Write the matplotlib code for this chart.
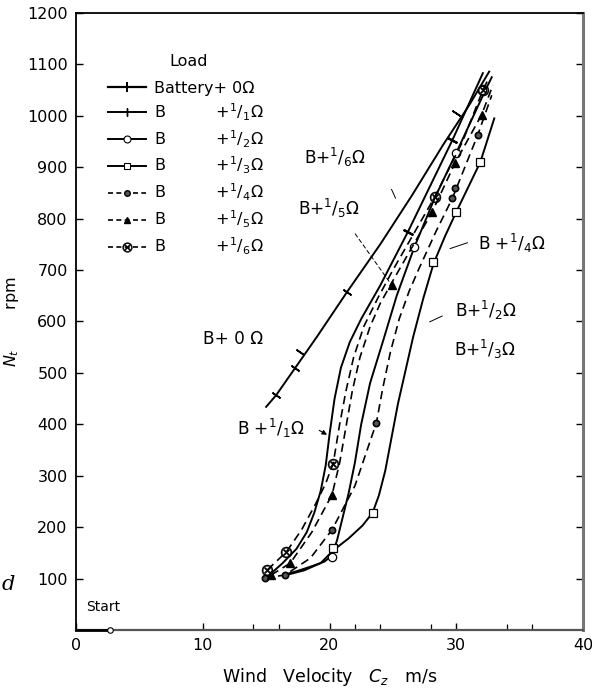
import matplotlib
matplotlib.use("Agg")
import matplotlib.pyplot as plt
from matplotlib.lines import Line2D

plt.rcParams['font.family'] = ['DejaVu Sans']
plt.rcParams['mathtext.fontset'] = 'dejavusans'

# ---------------- data ----------------
# Battery + 0 ohm
b0_x = [15.0, 15.8, 17.3, 19.0, 21.4, 24.0, 26.5, 29.0, 31.0, 32.6]
b0_y = [434, 457, 510, 570, 658, 750, 845, 945, 1020, 1086]
b0_mx = [15.8, 17.3, 17.7, 21.4, 30.0]
b0_my = [457, 510, 540, 658, 1006]

# B + 1/1 ohm
b1_x = [15.3, 16.3, 17.4, 18.2, 18.8, 19.3, 19.7, 20.0, 20.4, 20.9, 21.6, 22.5, 24.0, 26.2, 29.7, 32.1]
b1_y = [108, 130, 158, 190, 228, 270, 320, 380, 450, 510, 560, 605, 670, 775, 953, 1083]
b1_mx = [26.2, 29.7]
b1_my = [775, 953]

# B + 1/2 ohm
b2_x = [16.5, 17.5, 18.6, 19.6, 20.2, 20.6, 21.0, 21.5, 22.0, 22.5, 23.2, 24.2, 25.3, 26.7, 28.3, 30.0, 32.3, 32.8]
b2_y = [108, 115, 124, 133, 145, 175, 215, 265, 325, 400, 480, 560, 650, 745, 840, 928, 1050, 1075]
b2_mx = [20.2, 26.7, 30.0, 32.0]
b2_my = [142, 745, 928, 1050]

# B + 1/3 ohm
b3_x = [16.6, 18.0, 19.3, 20.3, 21.5, 22.6, 23.4, 23.9, 24.4, 24.9, 25.4, 26.0, 26.6, 27.4, 28.2, 29.1, 30.0, 31.9, 33.0]
b3_y = [107, 116, 130, 155, 178, 203, 228, 262, 310, 375, 440, 505, 570, 645, 712, 765, 813, 910, 995]
b3_mx = [20.3, 23.4, 28.2, 30.0, 31.9]
b3_my = [160, 228, 715, 813, 910]

# B + 1/4 ohm
b4_x = [14.9, 16.5, 18.5, 20.2, 22.0, 23.7, 24.2, 24.8, 25.5, 26.3, 27.1, 28.4, 29.7, 31.7, 32.8]
b4_y = [101, 107, 140, 195, 280, 403, 470, 540, 605, 660, 705, 775, 840, 963, 1040]
b4_mx = [14.9, 16.5, 20.2, 23.7, 29.7, 29.9, 31.7]
b4_my = [101, 107, 195, 403, 840, 860, 963]

# B + 1/5 ohm
b5_x = [15.4, 16.9, 18.6, 20.2, 20.8, 21.3, 21.8, 22.4, 23.2, 24.0, 24.9, 28.1, 29.9, 32.0, 32.9]
b5_y = [107, 130, 190, 263, 325, 395, 465, 530, 590, 635, 675, 813, 908, 1002, 1060]
b5_mx = [15.4, 16.9, 20.2, 24.9, 28.1, 29.9, 32.0]
b5_my = [107, 130, 263, 671, 813, 908, 1002]

# B + 1/6 ohm
b6_x = [15.1, 16.6, 17.8, 18.9, 19.7, 20.3, 20.8, 21.3, 21.9, 22.7, 23.8, 25.0, 28.3, 30.5, 32.1, 32.6]
b6_y = [117, 152, 195, 245, 285, 325, 400, 465, 530, 590, 645, 700, 842, 950, 1050, 1075]
b6_mx = [15.1, 16.6, 20.3, 28.3, 32.1]
b6_my = [117, 152, 322, 842, 1050]

start_x = [0.0, 2.7]
start_y = [0, 0]

x_ticks = [0, 10, 20, 30, 40]
x_minor = [14, 16, 22, 24, 28, 34, 36]
y_ticks = [100, 200, 300, 400, 500, 600, 700, 800, 900, 1000, 1100, 1200]

leg_labels = ["Battery+ 0Ω",
              "B          +$^{1}$/$_{1}$Ω",
              "B          +$^{1}$/$_{2}$Ω",
              "B          +$^{1}$/$_{3}$Ω",
              "B          +$^{1}$/$_{4}$Ω",
              "B          +$^{1}$/$_{5}$Ω",
              "B          +$^{1}$/$_{6}$Ω"]

# ---------------- figure ----------------
fig = plt.figure(figsize=(5.92, 6.91), dpi=100)
ax = fig.add_axes([76/592, 61/691, 507/592, 617/691])
ax.set_xlim(0, 40)
ax.set_ylim(0, 1200)

k = 'black'
lw = 1.4
dash = (0, (5, 3))
tick0 = (2, 2, 56)
tick1 = (2, 2, 62)

ax.plot(b0_x, b0_y, color=k, lw=lw)
ax.plot(b0_mx, b0_my, ls='none', marker=tick0, ms=7, mec=k, mew=1.2)

ax.plot(b1_x, b1_y, color=k, lw=lw)
ax.plot(b1_mx, b1_my, ls='none', marker=tick1, ms=8, mec=k, mew=1.6)

ax.plot(b2_x, b2_y, color=k, lw=lw)
ax.plot(b2_mx, b2_my, ls='none', marker='o', ms=6, mfc='white', mec=k, mew=0.9)

ax.plot(b3_x, b3_y, color=k, lw=lw)
ax.plot(b3_mx, b3_my, ls='none', marker='s', ms=5.5, mfc='white', mec=k, mew=0.9)

ax.plot(b4_x, b4_y, color=k, lw=1.2, ls=dash)
ax.plot(b4_mx, b4_my, ls='none', marker='o', ms=4.5, mfc='#555555', mec=k, mew=1.2)

ax.plot(b5_x, b5_y, color=k, lw=1.2, ls=dash)
ax.plot(b5_mx, b5_my, ls='none', marker='^', ms=5.5, mfc=k, mec=k)

ax.plot(b6_x, b6_y, color=k, lw=1.2, ls=dash)
ax.plot(b6_mx, b6_my, ls='none', marker=r'$\otimes$', ms=8, mfc=k, mec=k, mew=0.3)

ax.plot(start_x, start_y, color=k, lw=2.0, clip_on=False, zorder=5)
ax.plot(start_x[-1:], start_y[-1:], ls='none', marker='o', ms=4, mfc='white',
        mec=k, mew=0.8, clip_on=False, zorder=6)

# ---------------- axes styling ----------------
for s in ['left', 'top']:
    ax.spines[s].set_linewidth(1.3)
ax.spines['right'].set_linewidth(2.2)
ax.spines['right'].set_color('#777777')
ax.spines['bottom'].set_linewidth(1.6)
ax.spines['bottom'].set_color('#555555')

ax.set_xticks(x_ticks)
ax.set_xticks(x_minor, minor=True)
ax.set_yticks(y_ticks)
ax.tick_params(axis='both', which='major', direction='in', length=5, width=1.0,
               labelsize=11.5, pad=6, right=True)
ax.tick_params(axis='x', which='major', top=False)
ax.tick_params(axis='x', which='minor', direction='in', length=4, width=0.9, top=False)

ax.set_xlabel("Wind   Velocity   $C_z$   m/s", fontsize=12.5, labelpad=9)
ax.set_ylabel("$N_t$        rpm", fontsize=11.5, labelpad=4)

# ---------------- legend ----------------
handles = [
    Line2D([], [], color=k, lw=1.6, marker=(2, 2, 0), ms=7, mew=1.2),
    Line2D([], [], color=k, lw=1.4, marker=(2, 2, 0), ms=6, mew=1.0),
    Line2D([], [], color=k, lw=1.4, marker='o', ms=5, mfc='white', mec=k, mew=0.8),
    Line2D([], [], color=k, lw=1.4, marker='s', ms=5, mfc='white', mec=k, mew=0.8),
    Line2D([], [], color=k, lw=1.2, ls=(0, (3, 2)), marker='o', ms=4, mfc='#555555', mec=k),
    Line2D([], [], color=k, lw=1.2, ls=(0, (3, 2)), marker='^', ms=5, mfc=k, mec=k),
    Line2D([], [], color=k, lw=1.2, ls=(0, (3, 2)), marker=r'$\otimes$', ms=7, mec=k, mew=0.3),
]
leg = ax.legend(handles, leg_labels, loc='upper left',
                bbox_to_anchor=(0.063, 0.890), frameon=False, fontsize=11.5,
                handlelength=2.4, handletextpad=0.5,
                labelspacing=0.34, borderpad=0, borderaxespad=0)
ax.text(8.9, 1105, "Load", fontsize=11.5, ha='center', va='center')

# ---------------- curve labels ----------------
fs = 12.2
ax.text(18.0, 920, "B+$^{1}$/$_{6}$Ω", fontsize=fs, va='center')
ax.text(17.5, 820, "B+$^{1}$/$_{5}$Ω", fontsize=fs, va='center')
ax.text(31.7, 752, "B +$^{1}$/$_{4}$Ω", fontsize=fs, va='center')
ax.text(29.9, 622, "B+$^{1}$/$_{2}$Ω", fontsize=fs, va='center')
ax.text(29.8, 545, "B+$^{1}$/$_{3}$Ω", fontsize=fs, va='center')
ax.text(10.0, 565, "B+ 0 Ω", fontsize=fs, va='center')
ax.text(12.7, 392, "B +$^{1}$/$_{1}$Ω", fontsize=fs, va='center')
ax.text(0.8, 45, "Start", fontsize=10, va='center')

# leader lines
ax.annotate("", xy=(25.3, 835), xytext=(24.8, 862),
            arrowprops=dict(arrowstyle='-', lw=0.7, color=k))
ax.annotate("", xy=(24.9, 671), xytext=(21.9, 775),
            arrowprops=dict(arrowstyle='-', lw=0.7, color=k, ls=(0, (4, 3))))
ax.annotate("", xy=(29.3, 740), xytext=(31.1, 755),
            arrowprops=dict(arrowstyle='-', lw=0.7, color=k))
ax.annotate("", xy=(27.7, 597), xytext=(29.1, 613),
            arrowprops=dict(arrowstyle='-', lw=0.7, color=k))
ax.annotate("", xy=(20.0, 377), xytext=(19.0, 391),
            arrowprops=dict(arrowstyle='-|>', lw=0.8, color=k, mutation_scale=7))

# stray letter from the neighbouring page
fig.text(2/592, 1 - 585/691, "d", fontsize=15, style='italic', family='DejaVu Serif',
         va='center')

fig.savefig("out.png", dpi=100)
